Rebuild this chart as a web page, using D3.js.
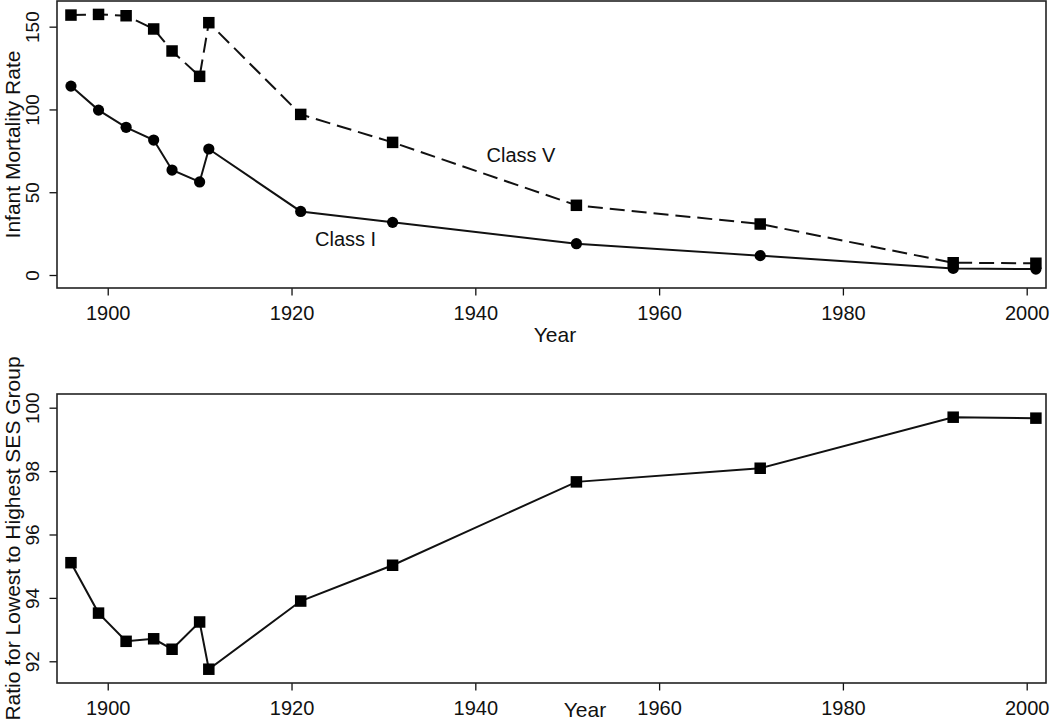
<!DOCTYPE html>
<html>
<head>
<meta charset="utf-8">
<script src="https://cdn.jsdelivr.net/npm/d3@7"></script>
<style>
  html, body { margin: 0; padding: 0; background: #fff; }
  svg { display: block; font-family: "Liberation Sans", Arial, Helvetica, sans-serif; }
</style>
</head>
<body>
<svg id="chart" width="1050" height="722"></svg>
<script>
// ---- data ----
const years = [1896, 1899, 1902, 1905, 1907, 1910, 1911, 1921, 1931, 1951, 1971, 1992, 2001];
const classV = [157.0, 157.4, 156.6, 148.6, 135.3, 120.0, 152.4, 97.0, 80.1, 42.1, 30.8, 7.4, 7.1];
const classI = [114.1, 99.6, 89.2, 81.5, 63.4, 56.2, 76.1, 38.4, 31.8, 18.9, 11.7, 4.0, 3.6];
const ratio  = [95.11, 93.52, 92.63, 92.71, 92.38, 93.24, 91.75, 93.90, 95.03, 97.66, 98.09, 99.70, 99.67];
const xTicks = [1900, 1920, 1940, 1960, 1980, 2000];
const yTicksTop = [0, 50, 100, 150];
const yTicksBottom = [92, 94, 96, 98, 100];
const seriesLabels = ["Class V", "Class I"];
const xTitle = "Year";
const yTitleTop = "Infant Mortality Rate";
const yTitleBottom = "Ratio for Lowest to Highest SES Group";

// ---- layout ----
const svg = d3.select("#chart");
const L = 57, R = 1046;
const top1 = 1, bot1 = 288;
const top2 = 394, bot2 = 683;
const ink = "#111";

const x = d3.scaleLinear().domain([1894.48, 2002.1]).range([L, R]);
const yTop = d3.scaleLinear().domain([-7.85, 165.5]).range([bot1, top1]);
const yBot = d3.scaleLinear().domain([91.315, 100.432]).range([bot2, top2]);

function panel(y, yTicks, yTop0, yBot0, yTitle, xTitleX) {
  const g = svg.append("g");
  // x axis
  const gx = g.append("g").attr("transform", `translate(0,${yBot0})`)
    .call(d3.axisBottom(x).tickValues(xTicks).tickFormat(d3.format("d")).tickSize(7.5).tickPadding(10.5));
  gx.select(".domain").remove();
  gx.selectAll("line").attr("stroke", ink).attr("stroke-width", 1.3);
  gx.selectAll("text").attr("fill", ink).style("font-size", "20px");
  // y axis
  const gy = g.append("g").attr("transform", `translate(${L},0)`)
    .call(d3.axisLeft(y).tickValues(yTicks).tickFormat(d3.format("d")).tickSize(7.5));
  gy.select(".domain").remove();
  gy.selectAll("line").attr("stroke", ink).attr("stroke-width", 1.3);
  gy.selectAll("text")
    .attr("x", null).attr("dy", null).attr("y", null)
    .attr("text-anchor", "middle")
    .attr("transform", "translate(-17.7,0) rotate(-90)")
    .attr("fill", ink).style("font-size", "19px");
  // box
  g.append("rect").attr("x", L).attr("y", yTop0).attr("width", R - L).attr("height", yBot0 - yTop0)
    .attr("fill", "none").attr("stroke", "#222").attr("stroke-width", 1.6);
  // titles
  g.append("text").attr("x", xTitleX.x).attr("y", xTitleX.y).attr("text-anchor", "middle")
    .style("font-size", "21px").attr("fill", ink).text(xTitle);
  g.append("text").attr("text-anchor", "middle")
    .attr("transform", `translate(19.5,${(yTop0 + yBot0) / 2}) rotate(-90)`)
    .style("font-size", "21px").attr("fill", ink).text(yTitle);
  return g;
}

panel(yTop, yTicksTop, top1, bot1, yTitleTop, {x: 555, y: 342});
panel(yBot, yTicksBottom, top2, bot2, yTitleBottom, {x: 585, y: 717});

function series(y, vals, dash, marker) {
  const pts = years.map((yr, i) => [yr, vals[i]]);
  const line = d3.line().x(d => x(d[0])).y(d => y(d[1]));
  svg.append("path").datum(pts).attr("d", line)
    .attr("fill", "none").attr("stroke", ink).attr("stroke-width", 2)
    .attr("stroke-dasharray", dash);
  const sym = marker === "square" ? d3.symbolSquare : d3.symbolCircle;
  const size = marker === "square" ? 11.5 * 11.5 : Math.PI * 5.6 * 5.6;
  svg.append("g").selectAll("path").data(pts).join("path")
    .attr("d", d3.symbol().type(sym).size(size))
    .attr("transform", d => `translate(${x(d[0])},${y(d[1])})`)
    .attr("fill", "#000");
}

series(yTop, classV, "15,7", "square");
series(yTop, classI, null, "circle");
series(yBot, ratio, null, "square");

// series labels
svg.append("text").attr("x", 521).attr("y", 161.7).attr("text-anchor", "middle")
  .style("font-size", "20px").attr("fill", ink).text(seriesLabels[0]);
svg.append("text").attr("x", 315).attr("y", 245.7).attr("text-anchor", "start")
  .style("font-size", "20px").attr("fill", ink).text(seriesLabels[1]);
</script>
</body>
</html>
